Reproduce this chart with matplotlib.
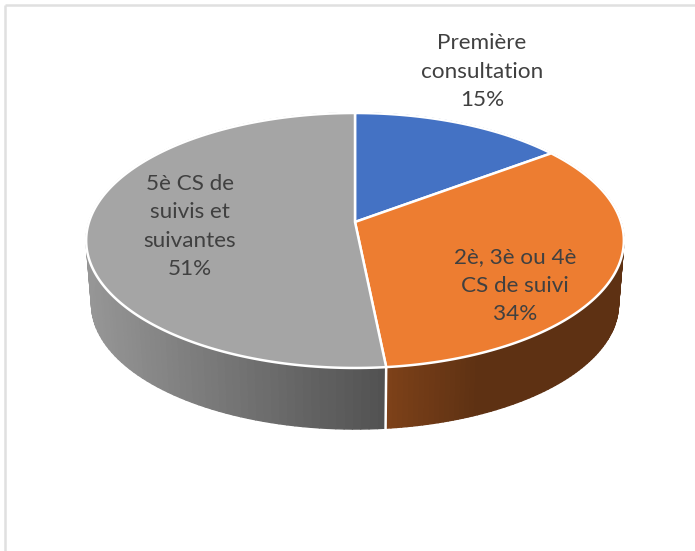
import numpy as np
import matplotlib
matplotlib.use("Agg")
import matplotlib.pyplot as plt
from matplotlib.collections import PolyCollection
from matplotlib.colors import to_rgb
from matplotlib.lines import Line2D

# Data
categories = ["Première\nconsultation", "2è, 3è ou 4è\nCS de suivi", "5è CS de\nsuivis et\nsuivantes"]
values = [14.8, 33.6, 51.6]
value_labels = ["15%", "34%", "51%"]
top_colors = ["#4472C4", "#ED7D31", "#A5A5A5"]
wall_left = ["#2A4578", "#7E4219", "#969696"]
wall_right = ["#2A4578", "#5E3113", "#525252"]
label_pos = [(482, 71.5), (515, 286), (190, 226.5)]

W, H = 695, 551
CX, CY = 355, 222
A, B, K = 124.8, 266.0, 0.145
DEPTH, SHRINK = 64, 0.98

fig = plt.figure(figsize=(W / 100, H / 100), dpi=100)
ax = fig.add_axes([0, 0, 1, 1])
ax.set_xlim(0, W)
ax.set_ylim(H, 0)
ax.axis("off")


def rim(theta, scale=1.0, dy=0.0):
    """Project circle points (clockwise from 12 o'clock) with perspective."""
    x, y = np.sin(theta), np.cos(theta)
    d = 1 + K * y
    return CX + scale * B * x / d, CY + dy - scale * A * y / d


# Frame lines at top and left
ax.add_line(Line2D([5, 5], [5, H], color="#E0E0E0", lw=1.8, solid_capstyle="butt"))
ax.add_line(Line2D([5, W], [5, 5], color="#E0E0E0", lw=1.8, solid_capstyle="butt"))

fractions = np.array(values) / np.sum(values)
edges = np.concatenate([[0], np.cumsum(fractions)]) * 2 * np.pi

# Side walls, drawn as fine vertical strips for the gradient
for i in range(len(values)):
    th = np.linspace(edges[i], edges[i + 1], 120)
    xt, yt = rim(th)
    xb, yb = rim(th, SHRINK, DEPTH)
    quads, cols = [], []
    c0, c1 = np.array(to_rgb(wall_left[i])), np.array(to_rgb(wall_right[i]))
    for j in range(len(th) - 1):
        quads.append([(xt[j], yt[j]), (xt[j + 1], yt[j + 1]), (xb[j + 1], yb[j + 1]), (xb[j], yb[j])])
        xm = xt[j]
        if i == 2:
            t = np.clip((xm - 88) / (386 - 88), 0, 1)
        else:
            t = np.clip((xm - 388) / (480 - 388), 0, 1)
        cols.append(c0 + (c1 - c0) * t)
    ax.add_collection(PolyCollection(quads, facecolors=cols, edgecolors=cols, linewidths=1.0, zorder=2))

# White seam on the visible wall boundary
xs0, ys0 = rim(edges[2])
xs1, ys1 = rim(edges[2], SHRINK, DEPTH)
ax.add_line(Line2D([xs0, xs1], [ys0, ys1], color="white", lw=1.8, zorder=3))

# Top face
for i in range(len(values)):
    th = np.linspace(edges[i], edges[i + 1], 200)
    x, y = rim(th)
    ax.fill(np.r_[CX, x], np.r_[CY, y], facecolor=top_colors[i], edgecolor="white", lw=1.8,
            joinstyle="round", zorder=4)

# Labels
for name, v, (lx, ly) in zip(categories, value_labels, label_pos):
    ax.text(lx, ly, f"{name}\n{v}", ha="center", va="center", family="Lato", fontsize=16.2,
            color="#404040", linespacing=1.53, zorder=5)

fig.savefig("out.png", dpi=100)
